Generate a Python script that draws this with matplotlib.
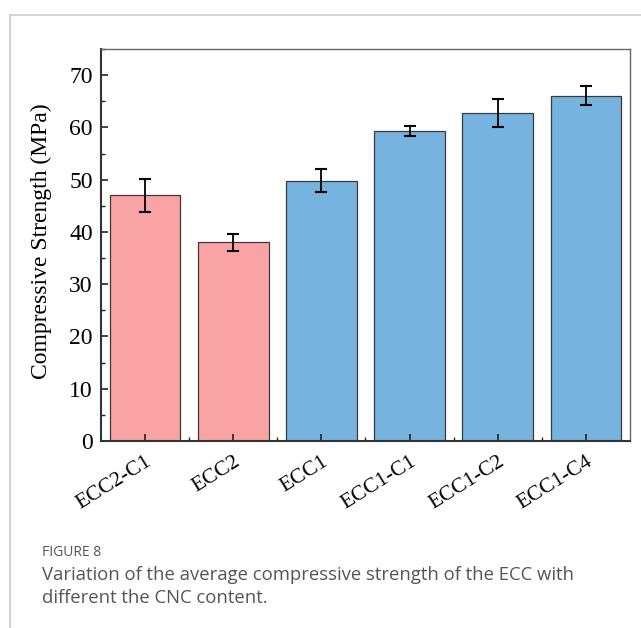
import matplotlib
matplotlib.use("Agg")
import matplotlib.pyplot as plt
from matplotlib.lines import Line2D
from matplotlib.ticker import MultipleLocator

# Resistencia a compresión media por mezcla (MPa) y su desviación
muestras = ["ECC2-C1", "ECC2", "ECC1", "ECC1-C1", "ECC1-C2", "ECC1-C4"]
resistencia = [47.0, 38.0, 49.8, 59.3, 62.8, 66.1]
desviacion = [3.1, 1.6, 2.2, 0.9, 2.7, 1.9]
colores = ["#F9A3A5", "#F9A3A5", "#77B3DF", "#77B3DF", "#77B3DF", "#77B3DF"]

SERIF = "Liberation Serif"

fig = plt.figure(figsize=(6.41, 6.28), dpi=100)
ax = fig.add_axes([101 / 641, 1 - 441 / 628, 529 / 641, 392 / 628])

x = range(len(muestras))
ax.bar(x, resistencia, width=0.8, color=colores, edgecolor="#3a3a3a", linewidth=0.9,
       yerr=desviacion, error_kw=dict(ecolor="black", elinewidth=1.3, capsize=4.5, capthick=1.5))

ax.set_xlim(-0.5, 5.5)
ax.set_ylim(0, 75)
ax.set_xticks(list(x))
ax.set_xticklabels(muestras, rotation=32, ha="right", va="top", rotation_mode="anchor",
                   family=SERIF, fontsize=15.5)
ax.set_xticks([i + 0.5 for i in range(len(muestras) - 1)], minor=True)
ax.yaxis.set_major_locator(MultipleLocator(10))
ax.yaxis.set_minor_locator(MultipleLocator(5))
for lab in ax.get_yticklabels():
    lab.set_family(SERIF)
    lab.set_fontsize(17)

ax.tick_params(axis="both", which="major", direction="in", length=5, width=1.2, color="#222")
ax.tick_params(axis="both", which="minor", direction="in", length=3, width=1.0, color="#222")
ax.tick_params(axis="x", which="major", pad=8)
ax.tick_params(axis="y", which="major", pad=6)
ax.tick_params(top=False, right=False, which="both")

for lado in ["top", "right"]:
    ax.spines[lado].set_color("#666")
    ax.spines[lado].set_linewidth(1.0)
for lado in ["left", "bottom"]:
    ax.spines[lado].set_color("#333")
    ax.spines[lado].set_linewidth(1.5)

ax.set_ylabel("Compressive Strength (MPa)", family=SERIF, fontsize=17)
ax.yaxis.set_label_coords(-0.093, 0.51)

# marco de la página
fig.add_artist(Line2D([10 / 641, 1], [1 - 15 / 628, 1 - 15 / 628], color="#cccccc", lw=1.2))
fig.add_artist(Line2D([10 / 641, 10 / 641], [0, 1 - 15 / 628], color="#cccccc", lw=1.2))

# pie de figura
fig.text(42 / 641, 1 - 553 / 628, "FIGURE 8", family="Open Sans", fontsize=10,
         color="#555555", va="center")
fig.text(42 / 641, 1 - 575 / 628, "Variation of the average compressive strength of the ECC with",
         family="Open Sans", fontsize=13.3, color="#555555", va="center")
fig.text(42 / 641, 1 - 598 / 628, "different the CNC content.",
         family="Open Sans", fontsize=13.3, color="#555555", va="center")

fig.savefig("out.png", dpi=100)
